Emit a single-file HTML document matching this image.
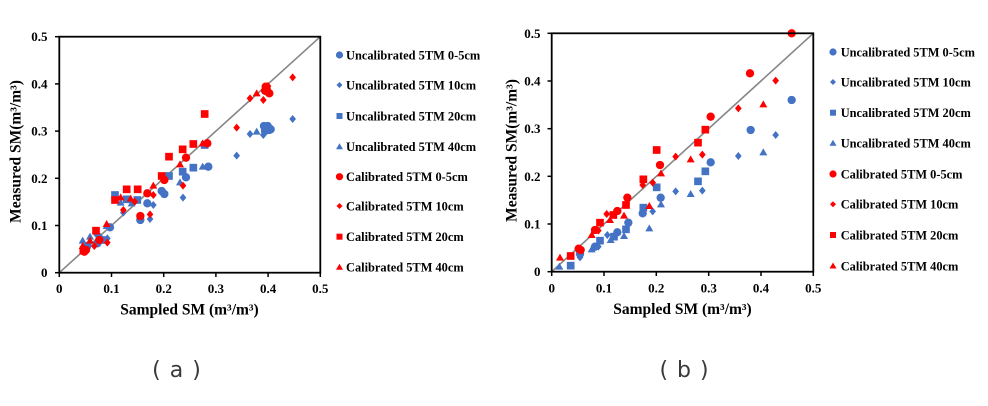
<!DOCTYPE html>
<html><head><meta charset="utf-8"><style>
html,body{margin:0;padding:0;background:#fff;}
svg{display:block;}
.tk{font-family:"Liberation Serif",serif;font-weight:bold;font-size:13px;fill:#000;}
.ax{font-family:"Liberation Serif",serif;font-weight:bold;font-size:15.5px;fill:#000;}
.lg{font-family:"Liberation Serif",serif;font-weight:bold;font-size:12.4px;fill:#000;}
.cap{font-family:"DejaVu Sans","Noto Sans CJK SC",sans-serif;font-size:22px;fill:#3a3a3a;letter-spacing:1px;}
</style></head><body>
<svg width="988" height="406" viewBox="0 0 988 406" xmlns="http://www.w3.org/2000/svg" xmlns:xlink="http://www.w3.org/1999/xlink">
<defs>
<circle id="c" r="12.5"/>
<path id="d" d="M0,-12L10,0L0,12L-10,0Z"/>
<rect id="s" x="-11.5" y="-11.5" width="23" height="23"/>
<path id="t" d="M0,-12L12,9L-12,9Z"/>
</defs>

<!-- ===== Chart (a) ===== -->
<line x1="59.3" y1="272.7" x2="320.3" y2="36.7" stroke="#868686" stroke-width="1.6"/>
<g transform="translate(0,20) scale(0.33333)">
<g fill="#4472C4">
<use xlink:href="#c" x="262" y="678"/><use xlink:href="#c" x="292" y="670"/><use xlink:href="#c" x="330" y="622"/><use xlink:href="#c" x="421" y="600"/><use xlink:href="#c" x="442" y="550"/><use xlink:href="#c" x="485" y="513"/><use xlink:href="#c" x="493" y="522"/><use xlink:href="#c" x="558" y="472"/><use xlink:href="#c" x="625" y="440"/><use xlink:href="#c" x="792" y="318"/><use xlink:href="#c" x="800" y="325"/><use xlink:href="#c" x="808" y="330"/><use xlink:href="#c" x="795" y="333"/><use xlink:href="#c" x="812" y="328"/><use xlink:href="#c" x="803" y="318"/>
<use xlink:href="#d" x="288" y="642"/><use xlink:href="#d" x="300" y="650"/><use xlink:href="#d" x="322" y="655"/><use xlink:href="#d" x="370" y="578"/><use xlink:href="#d" x="450" y="597"/><use xlink:href="#d" x="460" y="555"/><use xlink:href="#d" x="549" y="533"/><use xlink:href="#d" x="710" y="407"/><use xlink:href="#d" x="750" y="342"/><use xlink:href="#d" x="790" y="345"/><use xlink:href="#d" x="878" y="297"/>
<use xlink:href="#s" x="305" y="660"/><use xlink:href="#s" x="345" y="525"/><use xlink:href="#s" x="380" y="538"/><use xlink:href="#s" x="412" y="540"/><use xlink:href="#s" x="507" y="468"/><use xlink:href="#s" x="548" y="455"/><use xlink:href="#s" x="580" y="443"/><use xlink:href="#s" x="614" y="375"/>
<use xlink:href="#t" x="248" y="662"/><use xlink:href="#t" x="270" y="650"/><use xlink:href="#t" x="320" y="618"/><use xlink:href="#t" x="362" y="548"/><use xlink:href="#t" x="395" y="550"/><use xlink:href="#t" x="540" y="487"/><use xlink:href="#t" x="608" y="440"/><use xlink:href="#t" x="770" y="335"/>
</g>
<g fill="#FF0000">
<use xlink:href="#c" x="253" y="695"/><use xlink:href="#c" x="258" y="690"/><use xlink:href="#c" x="298" y="660"/><use xlink:href="#c" x="421" y="588"/><use xlink:href="#c" x="442" y="520"/><use xlink:href="#c" x="493" y="480"/><use xlink:href="#c" x="558" y="413"/><use xlink:href="#c" x="622" y="370"/><use xlink:href="#c" x="797" y="200"/><use xlink:href="#c" x="802" y="215"/><use xlink:href="#c" x="808" y="220"/><use xlink:href="#c" x="795" y="212"/><use xlink:href="#c" x="800" y="205"/>
<use xlink:href="#d" x="283" y="678"/><use xlink:href="#d" x="322" y="668"/><use xlink:href="#d" x="370" y="570"/><use xlink:href="#d" x="404" y="545"/><use xlink:href="#d" x="450" y="583"/><use xlink:href="#d" x="460" y="525"/><use xlink:href="#d" x="549" y="497"/><use xlink:href="#d" x="710" y="323"/><use xlink:href="#d" x="750" y="235"/><use xlink:href="#d" x="790" y="240"/><use xlink:href="#d" x="804" y="198"/><use xlink:href="#d" x="878" y="172"/>
<use xlink:href="#s" x="250" y="692"/><use xlink:href="#s" x="288" y="632"/><use xlink:href="#s" x="345" y="540"/><use xlink:href="#s" x="380" y="508"/><use xlink:href="#s" x="413" y="508"/><use xlink:href="#s" x="485" y="468"/><use xlink:href="#s" x="507" y="410"/><use xlink:href="#s" x="548" y="388"/><use xlink:href="#s" x="580" y="372"/><use xlink:href="#s" x="614" y="282"/>
<use xlink:href="#t" x="248" y="678"/><use xlink:href="#t" x="270" y="662"/><use xlink:href="#t" x="320" y="612"/><use xlink:href="#t" x="362" y="532"/><use xlink:href="#t" x="392" y="536"/><use xlink:href="#t" x="460" y="497"/><use xlink:href="#t" x="540" y="433"/><use xlink:href="#t" x="608" y="370"/><use xlink:href="#t" x="770" y="220"/>
</g>
</g>
<rect x="59.3" y="36.7" width="261" height="236" fill="none" stroke="#000" stroke-width="1.8"/>
<g stroke="#000" stroke-width="1.5">
<line x1="55" y1="272.7" x2="59.3" y2="272.7"/><line x1="55" y1="225.5" x2="59.3" y2="225.5"/><line x1="55" y1="178.3" x2="59.3" y2="178.3"/><line x1="55" y1="131.1" x2="59.3" y2="131.1"/><line x1="55" y1="83.9" x2="59.3" y2="83.9"/><line x1="55" y1="36.7" x2="59.3" y2="36.7"/>
<line x1="59.3" y1="272.7" x2="59.3" y2="277"/><line x1="111.5" y1="272.7" x2="111.5" y2="277"/><line x1="163.7" y1="272.7" x2="163.7" y2="277"/><line x1="215.9" y1="272.7" x2="215.9" y2="277"/><line x1="268.1" y1="272.7" x2="268.1" y2="277"/><line x1="320.3" y1="272.7" x2="320.3" y2="277"/>
</g>
<g class="tk" text-anchor="end">
<text x="47.5" y="277.2">0</text><text x="47.5" y="230">0.1</text><text x="47.5" y="182.8">0.2</text><text x="47.5" y="135.6">0.3</text><text x="47.5" y="88.4">0.4</text><text x="47.5" y="41.2">0.5</text>
</g>
<g class="tk" text-anchor="middle">
<text x="59.3" y="293">0</text><text x="111.5" y="293">0.1</text><text x="163.7" y="293">0.2</text><text x="215.9" y="293">0.3</text><text x="268.1" y="293">0.4</text><text x="320.3" y="293">0.5</text>
</g>
<text class="ax" x="189.5" y="314.5" text-anchor="middle">Sampled SM (m³/m³)</text>
<text class="ax" transform="translate(20.5,151.5) rotate(-90)" text-anchor="middle">Measured SM(m³/m³)</text>

<!-- legend (a) -->
<g>
<circle cx="339.5" cy="55" r="3.6" fill="#4472C4"/>
<path d="M339.5,82L342.5,85L339.5,88L336.5,85Z" fill="#4472C4"/>
<rect x="336.5" y="113" width="6" height="6" fill="#4472C4"/>
<path d="M339.5,143.2L343,149.2L336,149.2Z" fill="#4472C4"/>
<circle cx="339.5" cy="176.7" r="3.6" fill="#FF0000"/>
<path d="M339.5,203L342.5,206L339.5,209L336.5,206Z" fill="#FF0000"/>
<rect x="336.5" y="233.7" width="6" height="6" fill="#FF0000"/>
<path d="M339.5,263.8L343,269.8L336,269.8Z" fill="#FF0000"/>
</g>
<g class="lg">
<text x="346" y="59.3">Uncalibrated 5TM 0-5cm</text>
<text x="346" y="89.3">Uncalibrated 5TM 10cm</text>
<text x="346" y="120.3">Uncalibrated 5TM 20cm</text>
<text x="346" y="151">Uncalibrated 5TM 40cm</text>
<text x="346" y="181">Calibrated 5TM 0-5cm</text>
<text x="346" y="210.3">Calibrated 5TM 10cm</text>
<text x="346" y="241">Calibrated 5TM 20cm</text>
<text x="346" y="271.6">Calibrated 5TM 40cm</text>
</g>

<!-- ===== Chart (b) ===== -->
<line x1="551.7" y1="271.7" x2="813.3" y2="33.3" stroke="#868686" stroke-width="1.6"/>
<g transform="translate(500,20) scale(0.33333)">
<g fill="#4472C4">
<use xlink:href="#c" x="240" y="702"/><use xlink:href="#c" x="285" y="680"/><use xlink:href="#c" x="352" y="637"/><use xlink:href="#c" x="385" y="608"/><use xlink:href="#c" x="428" y="580"/><use xlink:href="#c" x="482" y="533"/><use xlink:href="#c" x="632" y="427"/><use xlink:href="#c" x="752" y="330"/><use xlink:href="#c" x="875" y="240"/>
<use xlink:href="#d" x="240" y="712"/><use xlink:href="#d" x="295" y="680"/><use xlink:href="#d" x="322" y="645"/><use xlink:href="#d" x="458" y="574"/><use xlink:href="#d" x="527" y="514"/><use xlink:href="#d" x="607" y="512"/><use xlink:href="#d" x="715" y="408"/><use xlink:href="#d" x="827" y="345"/>
<use xlink:href="#s" x="212" y="737"/><use xlink:href="#s" x="300" y="662"/><use xlink:href="#s" x="342" y="650"/><use xlink:href="#s" x="378" y="628"/><use xlink:href="#s" x="430" y="563"/><use xlink:href="#s" x="470" y="502"/><use xlink:href="#s" x="594" y="484"/><use xlink:href="#s" x="616" y="454"/>
<use xlink:href="#t" x="178" y="740"/><use xlink:href="#t" x="275" y="688"/><use xlink:href="#t" x="332" y="660"/><use xlink:href="#t" x="372" y="648"/><use xlink:href="#t" x="448" y="625"/><use xlink:href="#t" x="483" y="553"/><use xlink:href="#t" x="572" y="522"/><use xlink:href="#t" x="790" y="397"/>
</g>
<g fill="#FF0000">
<use xlink:href="#c" x="236" y="686"/><use xlink:href="#c" x="242" y="690"/><use xlink:href="#c" x="285" y="630"/><use xlink:href="#c" x="352" y="573"/><use xlink:href="#c" x="382" y="533"/><use xlink:href="#c" x="480" y="435"/><use xlink:href="#c" x="632" y="290"/><use xlink:href="#c" x="750" y="160"/><use xlink:href="#c" x="875" y="40"/>
<use xlink:href="#d" x="295" y="632"/><use xlink:href="#d" x="320" y="582"/><use xlink:href="#d" x="428" y="495"/><use xlink:href="#d" x="458" y="488"/><use xlink:href="#d" x="527" y="410"/><use xlink:href="#d" x="607" y="404"/><use xlink:href="#d" x="715" y="265"/><use xlink:href="#d" x="827" y="182"/>
<use xlink:href="#s" x="212" y="708"/><use xlink:href="#s" x="300" y="608"/><use xlink:href="#s" x="340" y="585"/><use xlink:href="#s" x="378" y="555"/><use xlink:href="#s" x="430" y="478"/><use xlink:href="#s" x="470" y="390"/><use xlink:href="#s" x="594" y="368"/><use xlink:href="#s" x="616" y="329"/>
<use xlink:href="#t" x="180" y="713"/><use xlink:href="#t" x="275" y="645"/><use xlink:href="#t" x="330" y="600"/><use xlink:href="#t" x="372" y="587"/><use xlink:href="#t" x="448" y="558"/><use xlink:href="#t" x="483" y="460"/><use xlink:href="#t" x="572" y="418"/><use xlink:href="#t" x="790" y="253"/>
</g>
</g>
<rect x="551.7" y="33.3" width="261.6" height="238.4" fill="none" stroke="#000" stroke-width="1.8"/>
<g stroke="#000" stroke-width="1.5">
<line x1="547.5" y1="271.7" x2="551.7" y2="271.7"/><line x1="547.5" y1="224" x2="551.7" y2="224"/><line x1="547.5" y1="176.3" x2="551.7" y2="176.3"/><line x1="547.5" y1="128.7" x2="551.7" y2="128.7"/><line x1="547.5" y1="81" x2="551.7" y2="81"/><line x1="547.5" y1="33.3" x2="551.7" y2="33.3"/>
<line x1="551.7" y1="271.7" x2="551.7" y2="276"/><line x1="604" y1="271.7" x2="604" y2="276"/><line x1="656.3" y1="271.7" x2="656.3" y2="276"/><line x1="708.7" y1="271.7" x2="708.7" y2="276"/><line x1="761" y1="271.7" x2="761" y2="276"/><line x1="813.3" y1="271.7" x2="813.3" y2="276"/>
</g>
<g class="tk" text-anchor="end">
<text x="540.5" y="276.2">0</text><text x="540.5" y="228.5">0.1</text><text x="540.5" y="180.8">0.2</text><text x="540.5" y="133.2">0.3</text><text x="540.5" y="85.5">0.4</text><text x="540.5" y="37.8">0.5</text>
</g>
<g class="tk" text-anchor="middle">
<text x="551.7" y="292.5">0</text><text x="604" y="292.5">0.1</text><text x="656.3" y="292.5">0.2</text><text x="708.7" y="292.5">0.3</text><text x="761" y="292.5">0.4</text><text x="813.3" y="292.5">0.5</text>
</g>
<text class="ax" x="682.5" y="314" text-anchor="middle">Sampled SM (m³/m³)</text>
<text class="ax" transform="translate(516.5,150.5) rotate(-90)" text-anchor="middle">Measured SM(m³/m³)</text>

<!-- legend (b) -->
<g>
<circle cx="833" cy="52" r="3.6" fill="#4472C4"/>
<path d="M833,79L836,82L833,85L830,82Z" fill="#4472C4"/>
<rect x="830" y="109.7" width="6" height="6" fill="#4472C4"/>
<path d="M833,139.8L836.5,145.8L829.5,145.8Z" fill="#4472C4"/>
<circle cx="833" cy="174" r="3.6" fill="#FF0000"/>
<path d="M833,201.3L836,204.3L833,207.3L830,204.3Z" fill="#FF0000"/>
<rect x="830" y="232" width="6" height="6" fill="#FF0000"/>
<path d="M833,262.5L836.5,268.5L829.5,268.5Z" fill="#FF0000"/>
</g>
<g class="lg">
<text x="840.7" y="56.3">Uncalibrated 5TM 0-5cm</text>
<text x="840.7" y="86.3">Uncalibrated 5TM 10cm</text>
<text x="840.7" y="117">Uncalibrated 5TM 20cm</text>
<text x="840.7" y="147.6">Uncalibrated 5TM 40cm</text>
<text x="840.7" y="178.3">Calibrated 5TM 0-5cm</text>
<text x="840.7" y="208.6">Calibrated 5TM 10cm</text>
<text x="840.7" y="239.3">Calibrated 5TM 20cm</text>
<text x="840.7" y="270.3">Calibrated 5TM 40cm</text>
</g>

<!-- captions -->
<text class="cap" x="177" y="377" text-anchor="middle">( a )</text>
<text class="cap" x="684.5" y="377" text-anchor="middle">( b )</text>
</svg>
</body></html>
